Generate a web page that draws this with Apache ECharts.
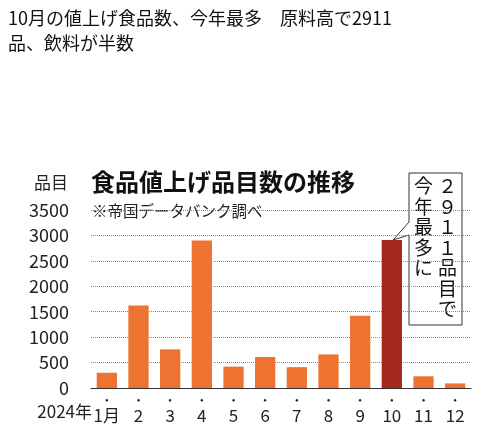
<!DOCTYPE html><html><head><meta charset="utf-8">
<script src="https://cdn.jsdelivr.net/npm/echarts@6/dist/echarts.min.js"></script>
<style>body{margin:0;background:#fff}#c{width:480px;height:436px}</style></head><body><div id="c"></div>
<script>
const categories=['1月','2','3','4','5','6','7','8','9','10','11','12'];
const values=[300,1620,760,2900,420,610,410,660,1420,2911,230,90];
const yTicks=[0,500,1000,1500,2000,2500,3000,3500];
const F='"Noto Sans CJK JP"';
const chart=echarts.init(document.getElementById('c'));
chart.setOption({
 animation:false,
 grid:{left:91,right:9,top:210,bottom:48},
 xAxis:{type:'category',data:categories,axisLine:{lineStyle:{color:'#333'}},axisTick:{show:false},
  axisLabel:{interval:0,margin:6,formatter:v=>'{d|●}\n{t|'+v+'}',rich:{d:{fontSize:6,color:'#222',lineHeight:12},t:{fontSize:17,color:'#222',fontFamily:F,lineHeight:20}}}},
 yAxis:{type:'value',min:0,max:3500,interval:500,axisLine:{show:false},axisTick:{show:false},
  axisLabel:{fontSize:18,color:'#222',fontFamily:F,margin:22,formatter:v=>String(v)},
  splitLine:{lineStyle:{color:'#888',type:'dotted'}}},
 series:[{type:'bar',barWidth:'64%',data:values.map((v,i)=>({value:v,itemStyle:{color:i===9?'#A3291C':'#EE7230'}}))}],
 graphic:[
  {type:'text',left:8,top:6,style:{text:'10月の値上げ食品数、今年最多　原料高で2911\n品、飲料が半数',font:'18px '+F,fill:'#111',lineHeight:25}},
  {type:'text',left:34,top:174,style:{text:'品目',font:'17px '+F,fill:'#222'}},
  {type:'text',left:91,top:170,style:{text:'食品値上げ品目数の推移',font:'bold 24px '+F,fill:'#111'}},
  {type:'text',left:92,top:203,style:{text:'※帝国データバンク調べ',font:'15.5px '+F,fill:'#222'}},
  {type:'text',right:388,top:403,style:{text:'2024年',font:'17px '+F,fill:'#222',align:'right'}},
  {type:'polygon',shape:{points:[[409,173],[462,173],[462,325],[409,325],[409,235],[393,240],[409,222]]},style:{fill:'#fff',stroke:'#333',lineWidth:1}},
  {type:'text',left:438,top:176,style:{text:'２\n９\n１\n１\n品\n目\nで',font:'19px '+F,fill:'#111',lineHeight:20.5}},
  {type:'text',left:414,top:176,style:{text:'今\n年\n最\n多\nに',font:'19px '+F,fill:'#111',lineHeight:20.5}}
 ]
});
</script></body></html>
